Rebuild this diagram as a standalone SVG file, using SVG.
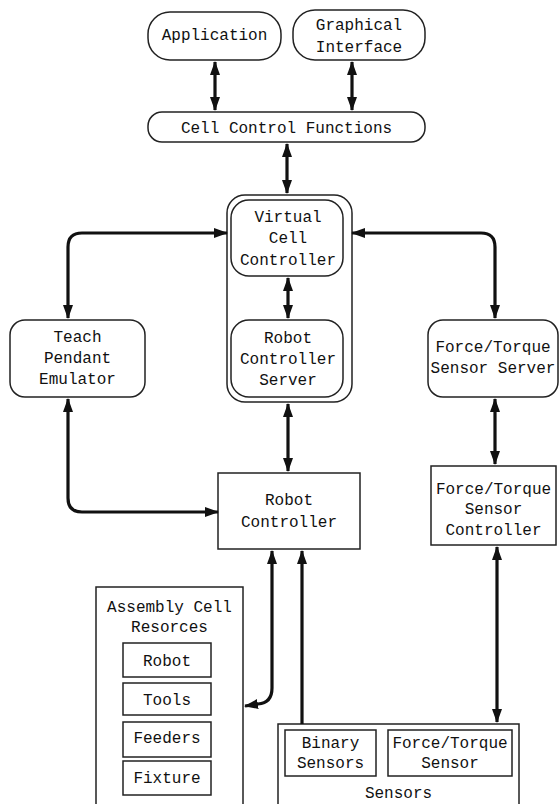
<svg xmlns="http://www.w3.org/2000/svg" width="560" height="804" viewBox="0 0 560 804">
<style>
.box{fill:#fff;stroke:#222;stroke-width:1.5}
.t{font-family:"Liberation Mono","DejaVu Sans Mono",monospace;font-size:16px;fill:#111;text-anchor:middle}
.c{fill:none;stroke:#111;stroke-width:3.2}
</style>
<defs>
<marker id="ah" viewBox="0 0 14 10" refX="13" refY="5" markerWidth="14" markerHeight="10" markerUnits="userSpaceOnUse" orient="auto-start-reverse">
<path d="M0,0 L14,5 L0,10 z" fill="#111"/>
</marker>
</defs>
<rect width="560" height="804" fill="#fff"/>

<g id="application">
<rect class="box" x="148" y="12" width="133" height="48" rx="22"/>
<text class="t" x="214.5" y="40">Application</text>
</g>
<g id="graphical-interface">
<rect class="box" x="293" y="10" width="132" height="50" rx="22"/>
<text class="t" x="359" y="30">Graphical</text>
<text class="t" x="359" y="52">Interface</text>
</g>
<g id="cell-control-functions">
<rect class="box" x="148" y="112" width="277" height="30" rx="14"/>
<text class="t" x="286.5" y="133">Cell Control Functions</text>
</g>
<g id="vcc-container">
<rect class="box" x="227" y="195" width="125" height="207" rx="18"/>
</g>
<g id="virtual-cell-controller">
<rect class="box" x="231" y="200" width="112" height="76" rx="18"/>
<text class="t" x="288" y="222">Virtual</text>
<text class="t" x="288" y="243">Cell</text>
<text class="t" x="288" y="265">Controller</text>
</g>
<g id="robot-controller-server">
<rect class="box" x="231" y="320" width="112" height="77" rx="18"/>
<text class="t" x="288" y="343">Robot</text>
<text class="t" x="288" y="364">Controller</text>
<text class="t" x="288" y="385">Server</text>
</g>
<g id="teach-pendant-emulator">
<rect class="box" x="10" y="320" width="135" height="77" rx="15"/>
<text class="t" x="77.5" y="342">Teach</text>
<text class="t" x="77.5" y="363">Pendant</text>
<text class="t" x="77.5" y="384">Emulator</text>
</g>
<g id="ft-sensor-server">
<rect class="box" x="428" y="320" width="130" height="77" rx="15"/>
<text class="t" x="493" y="352">Force/Torque</text>
<text class="t" x="493" y="373">Sensor Server</text>
</g>
<g id="robot-controller">
<rect class="box" x="218" y="473" width="142" height="76"/>
<text class="t" x="289" y="505">Robot</text>
<text class="t" x="289" y="527">Controller</text>
</g>
<g id="ft-sensor-controller">
<rect class="box" x="431" y="466" width="125" height="79"/>
<text class="t" x="493.5" y="494">Force/Torque</text>
<text class="t" x="493.5" y="514">Sensor</text>
<text class="t" x="493.5" y="535">Controller</text>
</g>
<g id="assembly-cell-resources">
<rect class="box" x="96" y="587" width="147" height="230"/>
<text class="t" x="169.5" y="612">Assembly Cell</text>
<text class="t" x="169.5" y="632">Resorces</text>
<rect class="box" x="123" y="643" width="88" height="34"/>
<text class="t" x="167" y="666">Robot</text>
<rect class="box" x="123" y="683" width="88" height="32"/>
<text class="t" x="167" y="705">Tools</text>
<rect class="box" x="123" y="722" width="88" height="35"/>
<text class="t" x="167" y="743">Feeders</text>
<rect class="box" x="123" y="761" width="88" height="34"/>
<text class="t" x="167" y="783">Fixture</text>
</g>
<g id="sensors">
<rect class="box" x="278" y="724" width="241" height="100"/>
<rect class="box" x="285" y="730" width="91" height="46"/>
<text class="t" x="330.5" y="748">Binary</text>
<text class="t" x="330.5" y="768">Sensors</text>
<rect class="box" x="388" y="730" width="124" height="46"/>
<text class="t" x="450" y="748">Force/Torque</text>
<text class="t" x="450" y="768">Sensor</text>
<text class="t" x="398.5" y="798">Sensors</text>
</g>

<g id="connectors">
<path class="c" d="M215,62 V110" marker-start="url(#ah)" marker-end="url(#ah)"/>
<path class="c" d="M352,62 V110" marker-start="url(#ah)" marker-end="url(#ah)"/>
<path class="c" d="M287,144 V193" marker-start="url(#ah)" marker-end="url(#ah)"/>
<path class="c" d="M288,278 V318" marker-start="url(#ah)" marker-end="url(#ah)"/>
<path class="c" d="M68,318 V247 Q68,233 82,233 H227" marker-start="url(#ah)" marker-end="url(#ah)"/>
<path class="c" d="M352,233 H481 Q495,233 495,247 V318" marker-start="url(#ah)" marker-end="url(#ah)"/>
<path class="c" d="M288,404 V471" marker-start="url(#ah)" marker-end="url(#ah)"/>
<path class="c" d="M495,399 V464" marker-start="url(#ah)" marker-end="url(#ah)"/>
<path class="c" d="M68,399 V498 Q68,512 82,512 H218" marker-start="url(#ah)" marker-end="url(#ah)"/>
<path class="c" d="M272,551 V688 Q272,703 258,704 L245,706" marker-start="url(#ah)" marker-end="url(#ah)"/>
<path class="c" d="M302,724 V551" marker-end="url(#ah)"/>
<path class="c" d="M497,547 V722" marker-start="url(#ah)" marker-end="url(#ah)"/>
</g>
</svg>
